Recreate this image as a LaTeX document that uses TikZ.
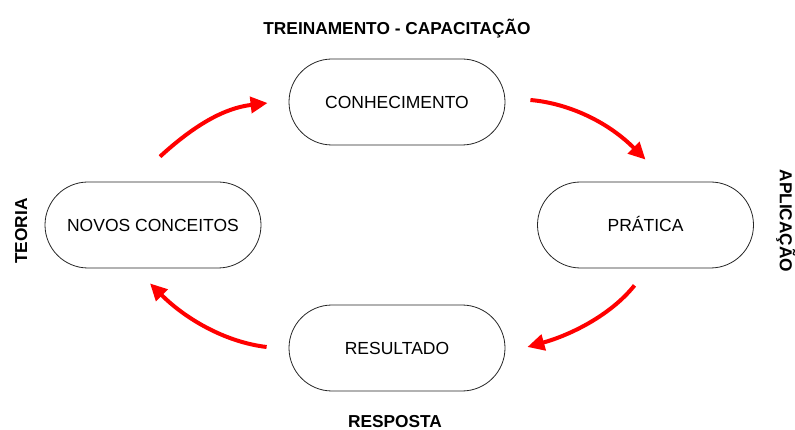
\documentclass[tikz,border=0pt]{standalone}
\usepackage{fontspec}
\setmainfont{Liberation Sans}
\usetikzlibrary{arrows.meta,calc}
\begin{document}
\begin{tikzpicture}[x=1pt,y=-1pt,
  stadium/.style={draw=black!85,line width=0.8pt,rectangle,rounded corners=43pt,
    minimum width=216pt,minimum height=86pt,inner sep=0pt,
    font=\fontsize{17.5}{20}\selectfont,text height=12.5pt,text depth=0pt},
  sidelabel/.style={inner sep=0pt,font=\fontsize{17.3}{20}\selectfont\bfseries,
    text height=12.4pt,text depth=0pt},
  flow/.style={draw={rgb,255:red,255;green,0;blue,0},line width=4pt,
    -{Triangle[length=17pt,width=16pt]}}]
\useasboundingbox (0,0) rectangle (795,430);
\node[stadium] (con) at (397,102) {CONHECIMENTO};
\node[stadium] (pra) at (645.5,225) {PRÁTICA};
\node[stadium] (res) at (397,348) {RESULTADO};
\node[stadium] (nov) at (153,225) {NOVOS CONCEITOS};
\node[sidelabel] (ltop) at (397,28.5) {TREINAMENTO - CAPACITAÇÃO};
\node[sidelabel,rotate=-90] (lright) at (786,221) {APLICAÇÃO};
\node[sidelabel,rotate=90] (lleft) at (21,231) {TEORIA};
\node[sidelabel] (lbot) at (395,421) {RESPOSTA};
\coordinate (a1s) at ($(nov.north)+(7,-25)$);
\coordinate (a1e) at ($(con.west)+(-21,1)$);
\coordinate (a2s) at ($(con.east)+(25,-2)$);
\coordinate (a2e) at ($(pra.north)+(0,-22)$);
\coordinate (a3s) at ($(pra.south)+(-11,17)$);
\coordinate (a3e) at ($(res.east)+(22,-1)$);
\coordinate (a4s) at ($(res.west)+(-22,-1)$);
\coordinate (a4e) at ($(nov.south)+(-3,15)$);
\draw[flow] (a1s) .. controls +(35,-32) and +(-43,5) .. (a1e);
\draw[flow] (a2s) .. controls +(35,3) and +(-40,-40) .. (a2e);
\draw[flow] (a3s) .. controls +(-24,30) and +(43,-12) .. (a3e);
\draw[flow] (a4s) .. controls +(-42,-5) and +(35,35) .. (a4e);
\end{tikzpicture}
\end{document}
